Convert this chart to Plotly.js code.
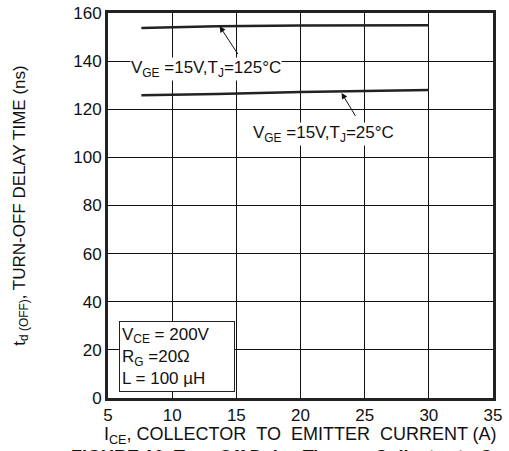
<!DOCTYPE html>
<html>
<head>
<meta charset="utf-8">
<script src="https://cdn.plot.ly/plotly-3.0.1.min.js"></script>
<style>
html,body{margin:0;padding:0;background:#fff;}
#chart{width:509px;height:451px;}
</style>
</head>
<body>
<div id="chart"></div>
<script>
// Collector-emitter current (A)
var currentA = [7.6, 13.5, 20, 25, 30];
// Turn-off delay time (ns)
var delay125C = [153.8, 154.5, 154.8, 154.9, 154.9];
var delay25C = [125.8, 126.3, 127.2, 127.6, 128.0];
// Tick values
var xTicks = [5, 10, 15, 20, 25, 30, 35];
var yTicks = [0, 20, 40, 60, 80, 100, 120, 140, 160];
// Text labels
var label125 = 'V<sub>GE</sub> =15V,T<sub>J</sub>=125°C';
var label25 = 'V<sub>GE</sub> =15V,T<sub>J</sub>=25°C';
var conditions = 'V<sub>CE</sub> = 200V<br>R<sub>G</sub> =20Ω<br>L = 100 µH';

var FONT = 'Liberation Sans, Arial, Helvetica, sans-serif';
var NB = '\u00a0';
var xTitle = 'I<sub>CE</sub>, COLLECTOR' + NB + NB + 'TO' + NB + NB + 'EMITTER' + NB + NB + 'CURRENT (A)';

var traces = [
  {x: currentA, y: delay125C, mode: 'lines', line: {color: '#222', width: 2.5}, hoverinfo: 'skip', showlegend: false},
  {x: currentA, y: delay25C, mode: 'lines', line: {color: '#222', width: 2.5}, hoverinfo: 'skip', showlegend: false}
];

var layout = {
  width: 509, height: 451,
  margin: {l: 108, r: 16, t: 13, b: 53},
  paper_bgcolor: '#fff', plot_bgcolor: '#fff',
  font: {family: FONT, size: 17, color: '#111'},
  showlegend: false,
  xaxis: {
    range: [5, 35], tickvals: xTicks, ticks: '', showgrid: true, gridcolor: '#111', gridwidth: 1,
    zeroline: false, showline: true, linecolor: '#222', linewidth: 3, mirror: true,
    tickfont: {family: FONT, size: 17, color: '#111'}, automargin: false
  },
  yaxis: {
    range: [0, 160], tickvals: yTicks, ticks: '', showgrid: true, gridcolor: '#111', gridwidth: 1,
    zeroline: false, showline: true, linecolor: '#222', linewidth: 3, mirror: true,
    tickfont: {family: FONT, size: 17, color: '#111'}, automargin: false,
    title: {text: 't<sub>d (OFF)</sub>, TURN-OFF DELAY TIME (ns)', font: {family: FONT, size: 17, color: '#111'}, standoff: 44}
  },
  annotations: [
    {x: 13.7, y: 154.5, ax: 15.2, ay: 142.3, axref: 'x', ayref: 'y', xref: 'x', yref: 'y', text: '',
     showarrow: true, arrowhead: 2, arrowsize: 1.2, arrowwidth: 1, arrowcolor: '#111'},
    {x: 23.2, y: 126.8, ax: 24.35, ay: 116.6, axref: 'x', ayref: 'y', xref: 'x', yref: 'y', text: '',
     showarrow: true, arrowhead: 2, arrowsize: 1.2, arrowwidth: 1, arrowcolor: '#111'},
    {x: 12.6, y: 136.8, xref: 'x', yref: 'y', text: label125, showarrow: false, bgcolor: '#fff',
     font: {family: FONT, size: 17, color: '#111'}, borderpad: 0},
    {x: 21.8, y: 109.6, xref: 'x', yref: 'y', text: label25, showarrow: false, bgcolor: '#fff',
     font: {family: FONT, size: 17, color: '#111'}, borderpad: 0},
    {x: 5.85, y: 2.4, xref: 'x', yref: 'y', xanchor: 'left', yanchor: 'bottom', text: conditions, align: 'left',
     showarrow: false, bgcolor: '#fff', bordercolor: '#222', borderwidth: 1, borderpad: 2,
     width: 110, height: 65, valign: 'middle',
     font: {family: FONT, size: 17, color: '#111'}},
    {x: 0.5, y: (398 - 422.5) / 385, xref: 'paper', yref: 'paper', xanchor: 'center', yanchor: 'top',
     text: xTitle, showarrow: false, borderpad: 0,
     font: {family: FONT, size: 18, color: '#111'}},
    {x: (70 - 108) / 385, y: (398 - 445.5) / 385, xref: 'paper', yref: 'paper', xanchor: 'left', yanchor: 'top',
     text: '<b>FIGURE 10. Turn-Off Delay Time vs Collector to Current</b>', showarrow: false, borderpad: 0,
     font: {family: FONT, size: 18, color: '#111'}}
  ]
};

Plotly.newPlot('chart', traces, layout, {displayModeBar: false, staticPlot: true});
</script>
</body>
</html>
